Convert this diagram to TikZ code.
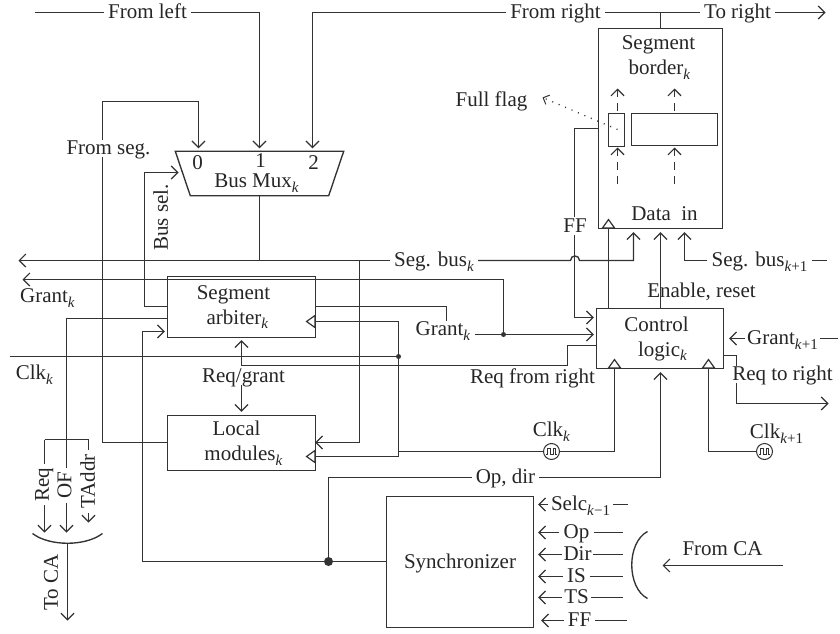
\documentclass[tikz,border=0pt]{standalone}
\usepackage{fontspec}
\setmainfont{Liberation Serif}
\usetikzlibrary{arrows.meta,backgrounds}
\newcommand{\sbs}[1]{\raisebox{-4.5pt}{\fontsize{15}{15}\selectfont #1}}
\newcommand{\pad}[1]{\hspace*{#1pt}}
\definecolor{ink}{gray}{0.2}
\tikzset{
  wire/.style={draw=ink,line width=1.35pt,line join=miter},
  arr/.style={wire,-{Straight Barb[length=6.5pt,width=13pt,line width=1.2pt]}},
  tri/.style={wire,-{Triangle[open,length=10pt,width=14pt,line width=1.2pt]}},
  dashwire/.style={arr,dash pattern=on 8pt off 6pt},
  box/.style={draw=ink,line width=1.35pt,rectangle,inner sep=0pt,align=center},
  lab/.style={fill=white,inner xsep=4pt,inner ysep=1pt,text height=14pt,text depth=1.5pt},
  txt/.style={inner sep=1pt,text height=14pt,text depth=1.5pt},
  junct/.style={circle,fill=ink,inner sep=0pt,minimum size=#1},
  clocknode/.style={circle,draw=ink,fill=white,line width=1pt,inner sep=0pt,minimum size=16pt,
    path picture={\draw[ink,line width=.9pt] ([xshift=-5.5pt,yshift=-3pt]path picture bounding box.center)
      -- ++(1.5,0) -- ++(0,-6) -- ++(2.5,0) -- ++(0,6) -- ++(3,0) -- ++(0,-6) -- ++(2.5,0) -- ++(0,6) -- ++(1.5,0);}}
}
\begin{document}
\begin{tikzpicture}[x=1pt,y=-1pt,font=\fontsize{21}{25}\selectfont,text=black!85]
\useasboundingbox (0.5,0.5) rectangle (840.5,634.5);
% boxes
\node[box,minimum width=124pt,minimum height=200pt] (border) at (661,129) {};
\node[box,minimum width=16pt,minimum height=33pt] (flagbox) at (617,130.5) {};
\node[box,minimum width=86pt,minimum height=32pt] (databox) at (675,130) {};
\node[box,minimum width=148pt,minimum height=61pt] (arb) at (242,307.5) {Segment\pad{16}\\arbiter\sbs{\textit{k}}\pad{8}};
\node[box,minimum width=148pt,minimum height=55pt] (loc) at (242,443.5) {Local\pad{10}\\\pad{4}modules\sbs{\textit{k}}};
\node[box,minimum width=127pt,minimum height=60pt] (ctl) at (660.5,339) {Control\pad{7}\\\pad{5}logic\sbs{\textit{k}}};
\node[box,minimum width=147pt,minimum height=131pt,text height=14pt,text depth=1.5pt] (sync) at (460.5,562.5) {Synchronizer};
\node[inner sep=0pt,minimum width=168pt,minimum height=44pt] (mux) at (260,174) {};
\draw[wire] (mux.north west) -- (mux.north east) -- ([xshift=-15pt]mux.south east) -- ([xshift=15pt]mux.south west) -- cycle;
% text in boxes
\node[txt] (mux0) at (198,164) {0};
\node[txt] (mux1) at (261,162) {1};
\node[txt] (mux2) at (314,163.5) {2};
\node[txt] (muxt) at (257,182) {Bus Mux\sbs{\textit{k}}};
\node[txt] (bordert) at (659,44) {Segment};
\node[txt] (bordert2) at (660,69) {border\sbs{\textit{k}}};
\node[txt] (datain) at (665,215) {Data\ \ in};
% labels on wires
\node[lab] (fromleft) at (148,13) {From left};
\node[lab] (fromright) at (556,13) {From right};
\node[lab] (toright) at (738,13) {To right};
\node[lab] (fromseg) at (109,149) {From seg.};
\node[lab] (segbus) at (434.5,261) {Seg. bus\sbs{\textit{k}}};
\node[lab] (segbusr) at (760,261) {Seg. bus\sbs{\textit{k}+1}};
\node[lab] (grantc) at (443.5,330) {Grant\sbs{\textit{k}}};
\node[lab,inner xsep=2pt] (grantr) at (783,339) {Grant\sbs{\textit{k}+1}};
\node[lab] (ffl) at (575.5,226.5) {FF};
\node[lab] (reqr) at (783,375) {Req to right};
\node[lab] (opdir) at (506,478) {Op, dir};
\node[lab,inner xsep=3pt] (selc) at (581,505) {Selc\sbs{\textit{k}−1}};
\node[lab] (opl) at (577,533) {Op};
\node[lab,inner xsep=1.5pt] (dirl) at (578,555) {Dir};
\node[lab] (isl) at (577,577) {IS};
\node[lab,inner xsep=2pt] (tsl) at (577,598) {TS};
\node[lab] (ffs) at (580,621) {FF};
\node[lab,rotate=90] (req) at (43,485) {Req};
\node[lab,rotate=90] (ofl) at (65.5,486) {OF};
\node[lab,rotate=90] (taddr) at (89,482) {TAddr};
% free labels
\node[txt] (fullflag) at (492,101) {Full flag};
\node[txt,rotate=90] (bussel) at (162,218) {Bus sel.};
\node[txt] (grantl) at (48,297) {Grant\sbs{\textit{k}}};
\node[txt] (clkl) at (35,374) {Clk\sbs{\textit{k}}};
\node[txt] (enable) at (702,291.5) {Enable, reset};
\node[txt] (reqfrom) at (533,378) {Req from right};
\node[txt] (reqgrant) at (244,377) {Req/grant};
\node[txt] (clkk) at (552,431) {Clk\sbs{\textit{k}}};
\node[txt] (clkkr) at (777,433) {Clk\sbs{\textit{k}+1}};
\node[txt,rotate=90] (toca) at (52,583) {To CA};
\node[txt] (fromca) at (723,550) {From CA};
% clocks and dots
\node[clocknode] (clk1) at (552,452) {};
\node[clocknode] (clk2) at (765,452) {};
\node[junct=5pt] (dotg) at (504,335) {};
\node[junct=5pt] (dotc) at (399,357) {};
\node[junct=9pt] (dots) at (329,562) {};
% free ends
\coordinate (fl0) at (35,13);
\coordinate (tr1) at (826,13);
\coordinate (sbl) at (19,261);
\coordinate (gl) at (23,280);
\coordinate (cl0) at (10,357);
\coordinate (sbr) at (827,261);
\coordinate (grr) at (838,339);
\coordinate (rtr) at (829,404);
\coordinate (bl) at (45,440);
\coordinate (br) at (89,440);
\coordinate (arcl) at (33,534);
\coordinate (arcm) at (68,544);
\coordinate (arcr) at (103,534);
\coordinate (tocae) at (68,621);
\coordinate (cat) at (648,532);
\coordinate (cab) at (648,599);
\coordinate (cam) at (783,566);
\coordinate (cae) at (663,566);
\coordinate (flagtip) at (543,98);
\coordinate (flagsrc) at (618,130);
\coordinate (muxl) at (183,173);
\coordinate (grantend) at (447,321);
\begin{pgfonlayer}{background}
\fill[white] (0,0) rectangle (841,635);
% top buses
\draw[wire] (fl0) -- (fromleft.west);
\draw[arr,shorten >=3pt] (fromleft.east) -- (260,13) -- (260,0 |- mux.north);
\draw[arr,shorten >=3pt] (fromright.west) -- (313,13) -- (313,0 |- mux.north);
\draw[wire] (fromright.east) -- (toright.west);
\draw[arr] (toright.east) -- (tr1);
\draw[wire] (661,13) -- (border.north);
% mux
\draw[arr,shorten >=3pt] (loc.west |- 0,443) -- (103,443) |- (199,102) -- (199,0 |- mux.north);
\draw[arr,shorten >=4pt] (arb.west |- 0,307) -- (145,307) |- (muxl);
\draw[wire] (mux.south) -- (260,261);
% seg bus
\draw[arr] (segbus.west) -- (sbl);
\draw[arr,shorten >=-1pt] (360,261) -- (360,443) -- (loc.east |- 0,443);
\draw[arr,shorten >=3pt] (segbus.east) -- (571,261) .. controls (571,255) and (580,255) .. (580,261) -- (634,261) -- (634,0 |- border.south);
\draw[arr,shorten >=3pt] (segbusr.west) -- (685,261) -- (685,0 |- border.south);
\draw[wire] (segbusr.east) -- (sbr);
% border internals
\draw[dashwire] (618,184) -- (618,148);
\draw[dashwire] (675,184) -- (675,148);
\draw[dashwire] (618,111) -- (618,89);
\draw[dashwire] (675,111) -- (675,89);
\draw[wire,dash pattern=on 1pt off 6pt,-{Straight Barb[length=5pt,width=10pt,line width=1pt]}] (flagsrc) -- (flagtip);
% control to border
\draw[tri] (ctl.north -| 609,0) -- (609,219);
\draw[arr,shorten >=3pt] (ctl.north -| 661,0) -- (border.south);
\draw[arr,shorten >=2pt] (border.west |- 0,129) -- (575,129) -- (575,318) -- (ctl.west |- 0,318);
% grant
\draw[arr] (dotg) -- (504,280) -- (gl);
\draw[arr,shorten >=2pt] (grantc.east |- dotg) -- (ctl.west |- dotg);
\draw[wire] (arb.east |- 0,307) -- (447,307) -- (grantend);
\draw[arr,shorten >=5pt] (grantr.west) -- (ctl.east |- grantr);
\draw[wire] (grantr.east) -- (grr);
% req
\draw[arr,shorten >=2pt] (ctl.west |- 0,346) -- (568,346) -- (568,366) -| (arb.south);
\draw[arr] (ctl.east |- 0,356) -- (737,356) -- (737,404) -- (rtr);
\draw[arr,shorten >=3pt] (reqgrant.south -| loc.north) -- (loc.north);
% clock network
\draw[wire] (cl0) -- (dotc);
\draw[tri] (399,322) -- (306,322);
\draw[wire] (399,322) -- (399,457);
\draw[tri] (399,457) -- (306,457);
\draw[wire] (399,452) -- (clk1.west);
\draw[tri] (clk1.east) -- (615,452) -- (615,359);
\draw[tri] (clk2.west) -- (709,452) -- (709,359);
% sync
\draw[arr,shorten >=2pt] (dots) -- (143,562) -- (143,332) -- (arb.west |- 0,332);
\draw[wire] (dots) -- (sync.west |- dots);
\draw[wire] (dots) -- (329,478) -- (opdir.west);
\draw[arr,shorten >=3pt] (opdir.east) -- (661,478) -- (661,0 |- ctl.south);
% left bus to CA
\draw[arr] (arb.west |- 0,319) -- (67,319) -- (67,533);
\draw[arr] (bl) -- (45,533);
\draw[wire] (bl) -- (br);
\draw[arr] (br) -- (89,523);
\draw[wire] (arcl) .. controls (50,547) and (86,547) .. (arcr);
\draw[arr] (arcm) -- (tocae);
% synchronizer inputs
\draw[arr,shorten >=4pt] (selc.west) -- (sync.east |- selc);
\draw[wire] (selc.east) -- (628,505);
\draw[arr,shorten >=4pt] (opl.west) -- (sync.east |- opl);
\draw[wire] (opl.east) -- (623,533);
\draw[arr,shorten >=4pt] (dirl.west) -- (sync.east |- dirl);
\draw[wire] (dirl.east) -- (623,555);
\draw[arr,shorten >=4pt] (isl.west) -- (sync.east |- isl);
\draw[wire] (isl.east) -- (623,577);
\draw[arr,shorten >=4pt] (tsl.west) -- (sync.east |- tsl);
\draw[wire] (tsl.east) -- (623,598);
\draw[arr,shorten >=7pt] (ffs.west) -- (sync.east |- ffs);
\draw[wire] (ffs.east) -- (627,621);
\draw[wire] (cat) .. controls (627,543) and (627,588) .. (cab);
\draw[arr] (cam) -- (cae);
\end{pgfonlayer}
\end{tikzpicture}
\end{document}
